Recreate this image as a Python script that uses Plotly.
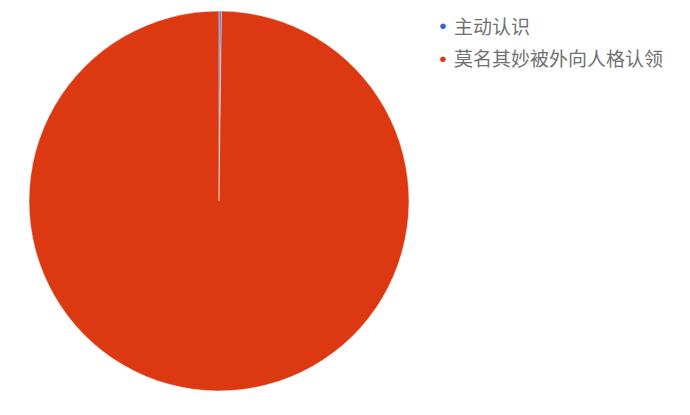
import plotly.graph_objects as go

labels = ["主动认识", "莫名其妙被外向人格认领"]
values = [0.2, 99.8]
colors = ["#3366CC", "#DC3912"]

W, H = 690, 415
fig = go.Figure()
fig.add_trace(go.Pie(
    labels=labels, values=values, sort=False, direction="clockwise", rotation=0,
    marker=dict(colors=colors, line=dict(color="white", width=0.5)),
    textinfo="none", hoverinfo="label+percent", showlegend=False,
    domain=dict(x=[21/W, 401/W], y=[1-383/H, 1-3/H]),
))

# legend drawn as annotations (round dots + labels)
legend_y = [17, 50]
for lab, col, yy in zip(labels, colors, legend_y):
    fig.add_annotation(x=435/W, y=1-yy/H, xref="paper", yref="paper",
                       text="●", showarrow=False, xanchor="center", yanchor="middle",
                       font=dict(size=13, color=col))
    fig.add_annotation(x=444/W, y=1-yy/H, xref="paper", yref="paper",
                       text=lab, showarrow=False, xanchor="left", yanchor="middle",
                       font=dict(family="Noto Sans CJK SC", size=19, color="#707070"))

fig.update_layout(
    width=W, height=H,
    margin=dict(l=0, r=0, t=0, b=0),
    paper_bgcolor="white", plot_bgcolor="white",
    showlegend=False,
)
fig.write_html("out.html")
